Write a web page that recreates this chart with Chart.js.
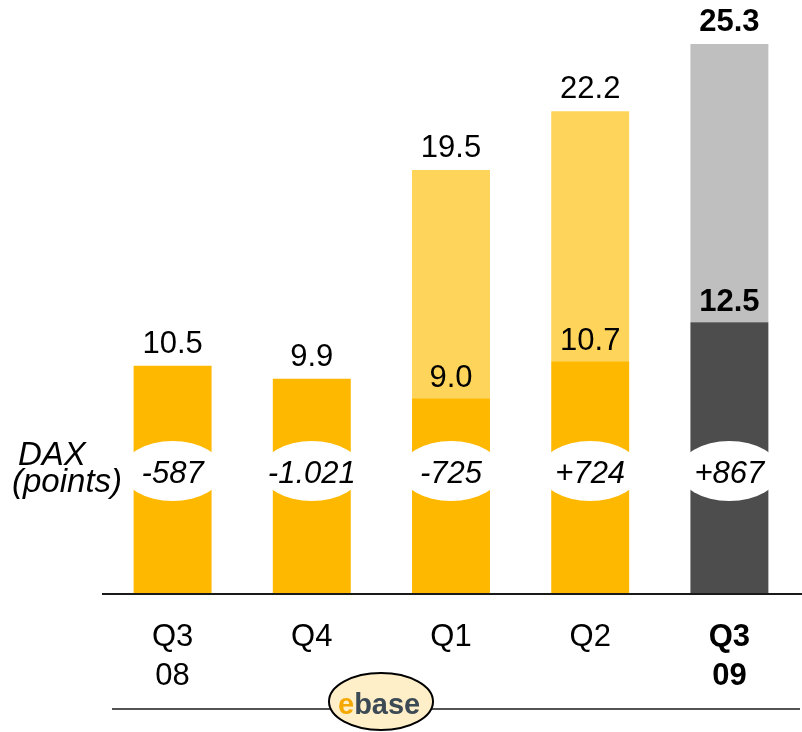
<!DOCTYPE html>
<html>
<head>
<meta charset="utf-8">
<script src="https://cdn.jsdelivr.net/npm/chart.js@4.4.1/dist/chart.umd.min.js"></script>
<style>
  html, body { margin: 0; padding: 0; background: #fff; }
  #wrap { width: 802px; height: 732px; }
</style>
</head>
<body>
<div id="wrap"><canvas id="Chart" width="802" height="732"></canvas></div>
<script>
// quarters, Q3 2008 - Q3 2009
const quarters = [["Q3", "08"], ["Q4"], ["Q1"], ["Q2"], ["Q3", "09"]];
// cumulative value per quarter (top label)
const totals = [10.5, 9.9, 19.5, 22.2, 25.3];
// value of the quarter itself (lower part of the bar)
const quarterValues = [10.5, 9.9, 9.0, 10.7, 12.5];
// DAX change in points
const daxPoints = ["-587", "-1.021", "-725", "+724", "+867"];

const lowerColors = ["#FFB800", "#FFB800", "#FFB800", "#FFB800", "#4D4D4D"];
const upperColors = ["#FFD45A", "#FFD45A", "#FFD45A", "#FFD45A", "#BFBFBF"];
const FONT = "'Liberation Sans', Arial, sans-serif";
const lastIdx = quarters.length - 1;

let upperValues = [];
for (let i = 0; i < totals.length; i++) {
    upperValues.push(+(totals[i] - quarterValues[i]).toFixed(1));
}

const labelsPlugin = {
    id: "barLabels",
    afterDatasetsDraw(chart) {
        const ctx = chart.ctx;
        const x = chart.scales.x;
        const y = chart.scales.y;
        const area = chart.chartArea;
        ctx.save();

        // axis line
        ctx.strokeStyle = "#1a1a1a";
        ctx.lineWidth = 2;
        ctx.beginPath();
        ctx.moveTo(area.left - 1, area.bottom);
        ctx.lineTo(chart.width, area.bottom);
        ctx.stroke();

        ctx.fillStyle = "#000";
        ctx.textAlign = "center";
        ctx.textBaseline = "alphabetic";
        for (let i = 0; i < totals.length; i++) {
            const cx = x.getPixelForValue(i);
            const w = i === lastIdx ? "bold " : "";
            ctx.font = w + "31px " + FONT;
            ctx.fillText(totals[i].toFixed(1), cx, y.getPixelForValue(totals[i]) - 13);
            if (upperValues[i] > 0) {
                ctx.fillText(quarterValues[i].toFixed(1), cx, y.getPixelForValue(quarterValues[i]) - 11);
            }
        }

        // DAX ovals
        const oy = y.getPixelForValue(5.66);
        for (let i = 0; i < daxPoints.length; i++) {
            const cx = x.getPixelForValue(i);
            ctx.fillStyle = "#fff";
            ctx.beginPath();
            ctx.ellipse(cx, oy, 50, 30, 0, 0, Math.PI * 2);
            ctx.fill();
            ctx.fillStyle = "#000";
            ctx.font = "italic 31px " + FONT;
            ctx.fillText(daxPoints[i], cx, oy + 12);
        }
        ctx.textAlign = "left";
        ctx.font = "italic 33px " + FONT;
        ctx.fillText("DAX", 18, oy - 6);
        ctx.fillText("(points)", 12, oy + 21);

        // bottom rule with logo
        ctx.strokeStyle = "#1a1a1a";
        ctx.lineWidth = 1.5;
        ctx.beginPath();
        ctx.moveTo(112, 709);
        ctx.lineTo(800, 709);
        ctx.stroke();
        ctx.fillStyle = "#FFEFC8";
        ctx.beginPath();
        ctx.ellipse(381, 701.5, 52, 28.5, 0, 0, Math.PI * 2);
        ctx.fill();
        ctx.strokeStyle = "#000";
        ctx.lineWidth = 2;
        ctx.stroke();
        ctx.font = "bold 29px " + FONT;
        ctx.fillStyle = "#F5A800";
        ctx.fillText("e", 338, 714);
        const ew = ctx.measureText("e").width;
        ctx.fillStyle = "#3C4A55";
        ctx.fillText("base", 338 + ew, 714);
        ctx.restore();
    }
};

let chart = new Chart(document.getElementById("Chart"), {
    type: "bar",
    data: {
        labels: quarters,
        datasets: [{
            data: quarterValues,
            backgroundColor: lowerColors,
            barPercentage: 0.56,
            categoryPercentage: 1
        }, {
            data: upperValues,
            backgroundColor: upperColors,
            barPercentage: 0.56,
            categoryPercentage: 1
        }]
    },
    options: {
        responsive: false,
        animation: false,
        events: [],
        layout: { padding: { top: 7, left: 103, right: 3, bottom: 0 } },
        plugins: { legend: { display: false }, tooltip: { enabled: false } },
        scales: {
            x: {
                stacked: true,
                grid: { display: false },
                border: { display: false },
                afterFit: function (scale) { scale.height = 138; },
                ticks: {
                    color: "#000",
                    padding: 16,
                    maxRotation: 0,
                    font: function (c) {
                        return { family: FONT, size: 31, lineHeight: 1.25, weight: c.index === lastIdx ? "bold" : "normal" };
                    }
                }
            },
            y: {
                stacked: true,
                display: false,
                min: 0,
                max: 27
            }
        }
    },
    plugins: [labelsPlugin]
});
</script>
</body>
</html>
